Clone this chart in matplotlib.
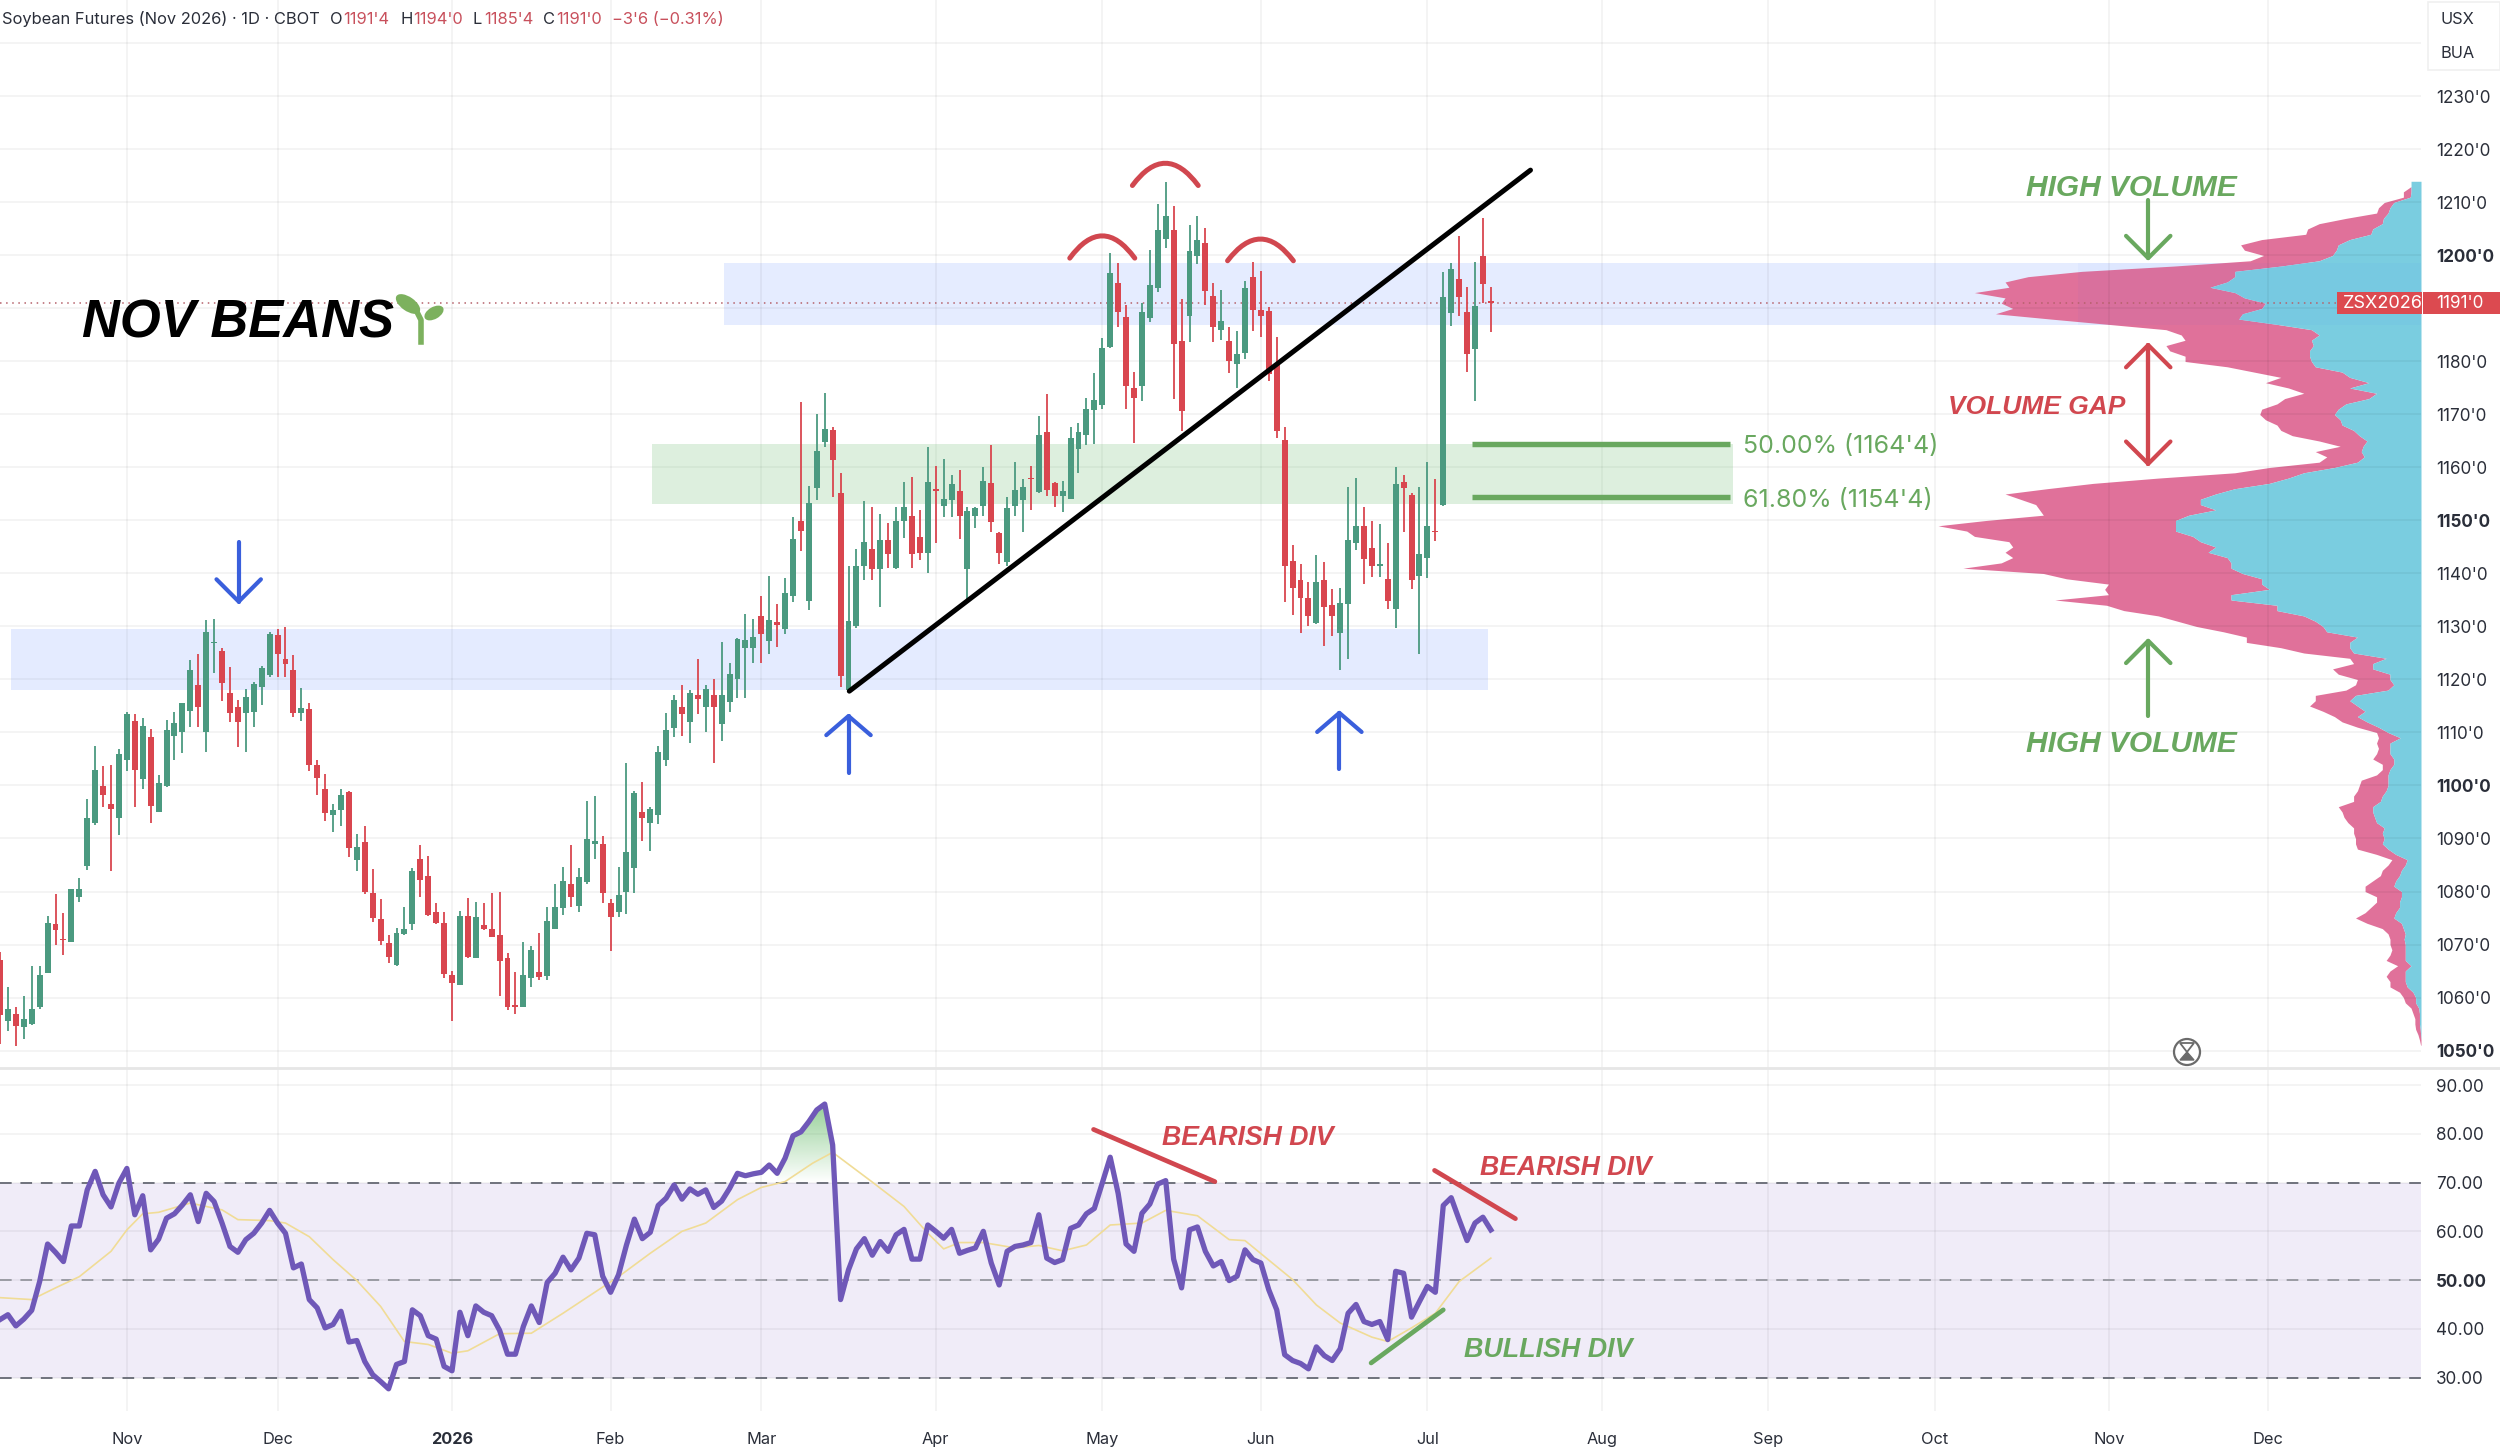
import numpy as np
import matplotlib
matplotlib.use('Agg')
import matplotlib.pyplot as plt
from matplotlib.patches import Rectangle, Ellipse, Circle, Polygon, PathPatch
from matplotlib.path import Path
from matplotlib.lines import Line2D
from matplotlib.transforms import Affine2D

opens = [1067.0,1055.5,1056.9,1054.4,1055.0,1058.3,1064.7,1073.8,1071.1,1070.5,
         1078.9,1084.9,1092.9,1099.9,1096.6,1093.9,1104.8,1112.1,1101.3,1109.1,
         1095.0,1099.9,1109.4,1110.1,1114.1,1119.0,1110.0,1126.8,1125.4,1117.4,
         1114.8,1113.7,1113.8,1118.6,1120.9,1128.4,1123.9,1121.7,1113.7,1114.4,
         1103.9,1099.3,1094.4,1095.3,1098.7,1085.9,1089.4,1079.8,1074.9,1070.2,
         1066.2,1071.9,1073.8,1086.2,1083.0,1076.2,1074.1,1064.2,1062.4,1075.4,
         1067.5,1073.6,1072.9,1071.7,1067.5,1058.5,1058.3,1063.7,1064.9,1064.0,
         1072.9,1076.9,1081.4,1077.3,1081.7,1088.9,1089.0,1077.9,1076.1,1079.9,
         1084.4,1095.0,1092.9,1094.4,1104.8,1110.8,1114.9,1111.9,1117.0,1114.8,
         1117.0,1111.6,1115.8,1120.0,1125.9,1125.9,1132.0,1127.3,1130.8,1129.6,
         1135.8,1149.9,1134.9,1156.1,1164.9,1167.1,1155.1,1118.0,1130.0,1141.5,
         1144.6,1140.8,1146.4,1141.1,1149.9,1150.8,1146.9,1143.8,1155.8,1152.7,
         1153.9,1155.6,1140.8,1150.8,1152.8,1157.0,1147.6,1142.2,1152.8,1153.9,
         1158.0,1155.3,1166.7,1157.0,1154.7,1154.0,1163.5,1166.2,1170.8,1171.8,
         1182.8,1194.8,1188.4,1175.0,1175.3,1188.2,1193.8,1203.1,1204.8,1183.8,
         1188.6,1199.9,1202.3,1192.3,1186.0,1183.9,1179.5,1181.6,1195.9,1189.8,
         1189.6,1179.8,1165.1,1142.3,1138.8,1135.4,1130.7,1138.8,1134.0,1128.8,
         1134.2,1145.8,1149.0,1144.8,1141.5,1138.9,1133.3,1157.2,1154.9,1139.5,
         1142.9,1148.0,1152.9,1189.1,1195.5,1189.4,1182.3,1199.9,1191.5]
highs = [1068.5,1062.0,1058.3,1060.3,1066.0,1066.0,1075.4,1079.5,1075.9,1080.5,
         1082.5,1097.4,1107.4,1103.7,1103.9,1106.9,1113.8,1113.5,1112.7,1110.6,
         1101.9,1112.3,1113.8,1115.6,1123.7,1124.9,1131.2,1131.4,1125.9,1122.4,
         1116.2,1118.2,1119.6,1122.5,1128.9,1129.6,1129.9,1124.7,1118.4,1115.6,
         1104.8,1102.2,1096.6,1099.3,1099.0,1090.9,1092.4,1084.2,1078.5,1071.7,
         1073.1,1077.1,1084.5,1088.8,1086.7,1077.8,1076.1,1065.0,1076.4,1078.7,
         1078.1,1077.8,1079.8,1079.9,1068.4,1064.9,1070.4,1069.7,1072.1,1077.1,
         1081.4,1084.7,1088.7,1084.5,1097.1,1098.1,1090.4,1078.5,1084.7,1104.2,
         1099.0,1100.7,1096.0,1107.4,1113.7,1117.0,1119.0,1118.0,1123.9,1119.0,
         1120.0,1127.1,1123.2,1127.9,1132.3,1131.4,1135.8,1139.6,1134.3,1139.2,
         1150.6,1172.4,1156.5,1170.1,1174.1,1167.6,1158.9,1141.5,1144.6,1153.7,
         1152.6,1151.3,1149.5,1152.6,1157.2,1158.2,1152.0,1163.8,1160.3,1161.6,
         1158.6,1159.6,1152.6,1152.6,1160.0,1164.2,1147.8,1154.4,1161.0,1157.9,
         1160.3,1169.7,1173.8,1157.2,1157.5,1167.6,1168.3,1173.2,1177.8,1184.4,
         1200.4,1198.5,1190.7,1178.1,1191.0,1201.1,1209.8,1213.8,1209.3,1191.7,
         1205.8,1207.4,1205.1,1194.8,1193.4,1186.5,1185.8,1195.2,1198.8,1197.1,
         1190.3,1184.7,1167.6,1145.3,1141.8,1138.4,1143.4,1142.2,1137.0,1137.3,
         1156.3,1158.1,1152.6,1149.9,1149.3,1145.8,1160.0,1158.6,1155.1,1156.3,
         1161.0,1157.9,1196.9,1198.5,1203.7,1194.0,1198.8,1207.0,1194.0]
lows = [1051.2,1053.6,1050.9,1052.2,1054.9,1057.9,1064.7,1069.9,1068.0,1070.4,
        1078.1,1084.0,1092.6,1096.0,1083.8,1090.7,1102.7,1096.0,1099.3,1092.9,
        1095.0,1099.7,1104.9,1106.1,1111.1,1111.0,1106.3,1121.2,1115.9,1111.9,
        1107.3,1106.3,1111.1,1115.1,1120.4,1120.4,1120.5,1113.0,1112.2,1102.7,
        1098.3,1093.3,1091.3,1092.3,1086.5,1083.8,1079.5,1074.2,1069.9,1066.5,
        1066.0,1071.7,1072.7,1079.0,1075.4,1073.8,1063.7,1055.6,1062.3,1067.4,
        1067.4,1072.7,1071.4,1060.3,1057.6,1056.8,1058.3,1062.0,1063.3,1063.3,
        1072.9,1075.6,1077.1,1076.1,1081.5,1086.1,1077.8,1068.7,1075.1,1075.8,
        1079.8,1089.6,1087.6,1092.7,1103.7,1109.2,1109.4,1108.1,1113.5,1110.0,
        1104.2,1108.4,1113.9,1116.5,1116.5,1123.2,1123.2,1124.9,1126.2,1128.5,
        1134.7,1144.3,1133.1,1153.9,1163.8,1154.4,1118.5,1117.8,1129.8,1138.7,
        1138.7,1133.7,1141.1,1140.8,1146.7,1141.1,1142.5,1140.1,1145.7,1150.6,
        1150.6,1146.5,1135.2,1148.5,1150.9,1147.8,1141.8,1141.5,1150.9,1147.8,
        1152.0,1155.1,1154.6,1152.6,1151.6,1154.0,1158.9,1164.2,1164.5,1171.1,
        1182.6,1186.5,1171.1,1164.6,1172.5,1187.5,1193.1,1201.5,1172.9,1166.9,
        1183.7,1198.3,1190.7,1183.7,1184.0,1177.9,1175.0,1180.5,1185.8,1184.7,
        1176.4,1165.6,1134.7,1132.1,1128.7,1130.0,1130.5,1126.4,1128.2,1121.8,
        1123.8,1144.4,1138.0,1139.4,1139.4,1133.3,1129.8,1147.8,1137.0,1124.8,
        1139.2,1146.2,1152.8,1186.6,1188.6,1178.0,1172.5,1191.0,1185.5]
closes = [1056.7,1057.9,1054.7,1055.9,1057.9,1064.3,1074.1,1072.7,1070.8,1080.4,
          1080.4,1093.9,1102.9,1098.3,1095.6,1105.9,1113.5,1102.9,1111.3,1096.1,
          1100.5,1110.4,1111.8,1115.6,1121.7,1114.8,1128.9,1127.1,1119.4,1113.7,
          1111.9,1116.7,1119.2,1122.2,1128.5,1124.9,1122.9,1113.7,1114.6,1103.9,
          1101.5,1094.8,1095.4,1098.3,1088.2,1088.4,1079.9,1075.0,1070.7,1067.7,
          1072.2,1072.9,1083.8,1082.2,1075.6,1074.1,1064.5,1062.7,1075.4,1067.6,
          1075.2,1072.9,1071.5,1066.9,1058.3,1058.3,1064.2,1068.9,1063.9,1074.4,
          1077.1,1082.0,1078.9,1082.7,1089.9,1089.6,1079.7,1075.2,1079.3,1087.4,
          1098.5,1093.9,1095.6,1106.4,1110.4,1116.2,1113.5,1117.4,1116.4,1118.2,
          1114.8,1117.0,1121.1,1127.6,1127.4,1128.1,1128.6,1131.3,1130.3,1136.3,
          1146.6,1148.0,1153.3,1163.1,1167.3,1161.4,1120.6,1131.0,1141.4,1146.0,
          1140.9,1146.4,1143.6,1149.9,1152.6,1143.7,1143.9,1157.2,1155.6,1154.0,
          1156.8,1150.8,1151.7,1152.3,1157.5,1149.7,1143.8,1152.3,1155.8,1156.3,
          1157.8,1166.2,1155.8,1154.7,1155.6,1165.6,1166.7,1171.1,1172.7,1182.6,
          1196.6,1189.3,1175.3,1173.2,1189.3,1194.5,1204.8,1207.5,1183.3,1170.6,
          1200.8,1202.9,1193.3,1186.5,1187.7,1180.1,1181.4,1193.9,1189.8,1188.6,
          1177.6,1166.9,1141.4,1137.3,1135.4,1131.9,1138.4,1133.7,1131.9,1134.5,
          1146.4,1149.0,1142.7,1141.5,1141.7,1134.9,1156.8,1156.1,1138.8,1143.6,
          1149.0,1147.8,1192.1,1197.5,1192.1,1181.4,1190.5,1194.6,1191.0]

rsi = [41.9,42.9,40.6,42.0,43.8,49.7,57.4,55.7,53.8,61.1,
       61.1,68.5,72.3,67.5,65.0,69.9,72.9,63.4,67.3,56.2,
       58.4,62.7,63.6,65.4,67.5,62.0,67.8,66.1,61.7,56.9,
       55.7,58.3,59.6,61.7,64.3,61.7,59.6,52.5,53.3,46.0,
       44.3,40.2,40.9,43.6,37.3,37.6,33.3,30.6,29.2,27.7,
       32.7,33.3,43.9,42.7,38.6,37.9,32.3,31.4,43.4,38.6,
       44.7,43.4,42.7,39.7,34.8,34.8,40.5,44.7,41.3,49.5,
       51.4,54.7,52.1,54.5,59.6,59.3,50.8,47.5,51.1,57.2,
       62.5,58.5,59.8,65.3,66.8,69.5,66.6,68.7,67.6,68.5,
       64.9,66.2,68.8,71.9,71.4,71.8,72.1,73.6,71.9,75.0,
       79.6,80.4,82.5,84.9,86.1,77.7,46.0,52.1,56.4,58.5,
       55.1,57.9,55.9,59.3,60.4,54.3,54.3,61.3,60.0,58.6,
       60.4,55.5,56.1,56.6,60.0,53.5,49.0,55.9,56.9,57.2,
       57.7,63.4,54.5,53.6,54.2,60.6,61.3,63.6,64.7,69.9,
       75.2,67.8,57.4,55.9,63.7,65.6,69.7,70.4,54.3,48.4,
       60.3,60.9,55.9,52.9,53.8,49.9,50.8,56.2,54.2,53.5,
       48.0,43.9,34.7,33.5,32.9,31.8,36.3,34.5,33.5,35.9,
       43.2,45.0,41.5,40.9,41.5,37.8,51.8,51.4,42.4,45.6,
       48.7,47.5,65.3,66.9,62.4,58.1,61.7,62.9,60.3]

rsi_ma_idx = [0,4,7,10,14,16,18,20,24,28,30,34,36,39,42,45,48,51,54,57,59,63,67,71,75,78,82,86,89,93,
              96,99,102.5,105,110,114,117,119,121,124,128,131,134,137,140,144,147,151,155,157,163,166,169,173,175,178,181,184,188]
rsi_ma = [46.4,46.0,48.4,50.7,55.9,60.3,63.6,63.9,65.8,64.4,62.4,62.2,61.7,58.9,54.2,49.9,44.6,37.4,36.8,35.0,35.5,39.0,39.1,43.2,47.5,50.7,55.5,60.0,61.7,66.5,
          69.0,70.2,74.0,76.2,70.1,65.1,59.6,56.4,57.7,57.7,56.6,57.1,56.0,57.2,61.3,61.7,64.3,63.2,58.3,58.1,50.1,44.9,41.2,38.3,37.4,40.2,43.2,49.7,54.5]

profile_prices = list(range(1214, 1050, -1))
profile_total = [26,26,46,46,96,111,116,196,266,296,301,416,471,461,411,446,646,886,1026,1086,
                 1076,1166,1086,1096,1066,1111,966,816,666,626,616,666,656,616,616,506,436,366,406,346,
                 306,356,376,416,421,406,376,366,336,266,211,276,246,266,396,486,686,856,976,1086,
                 1046,1006,996,986,1136,1261,1186,1166,1076,1066,1086,1066,1096,1196,986,926,816,826,816,956,
                 821,776,686,636,586,516,456,456,366,306,186,176,231,216,166,171,196,276,276,291,
                 256,226,206,166,116,111,116,111,116,126,101,101,116,156,161,166,176,176,216,206,
                 201,191,176,176,171,171,166,116,76,86,101,106,126,146,146,116,116,131,146,171,
                 141,101,86,81,81,76,81,91,61,81,91,81,81,56,46,41,26,21,16,16,14,8,4,1]
profile_up = [26,26,26,28,71,81,86,98,101,126,131,186,216,221,231,266,366,486,486,506,
              551,486,461,406,416,466,476,376,286,266,286,281,291,291,286,276,206,186,136,186,
              116,136,196,216,226,211,206,176,161,141,151,156,148,166,226,306,346,396,486,536,
              576,576,536,606,641,641,641,596,576,536,556,506,496,496,466,416,416,396,496,496,
              376,376,306,276,256,246,166,186,186,176,91,126,126,81,81,71,86,171,186,166,
              146,166,141,111,86,54,81,81,81,71,71,81,86,86,86,91,101,106,126,126,
              121,116,96,101,96,101,86,66,36,41,51,56,66,71,51,51,56,56,66,71,
              51,46,41,44,41,41,41,41,26,41,41,41,36,21,14,14,6,4,4,4,2,1,0,0]

price_ticks = [1240,1230,1220,1210,1200,1190,1180,1170,1160,1150,1140,1130,1120,1110,1100,1090,1080,1070,1060,1050]
price_labels = ['',"1230'0","1220'0","1210'0","1200'0",'',"1180'0","1170'0","1160'0","1150'0","1140'0",
                "1130'0","1120'0","1110'0","1100'0","1090'0","1080'0","1070'0","1060'0","1050'0"]
rsi_ticks = [90,80,70,60,50,40,30]
rsi_labels = ['90.00','80.00','70.00','60.00','50.00','40.00','30.00']
month_ticks = [16,35,57,77,96,118,139,159,180,202,223,244,266,286]
month_labels = ['Nov','Dec','2026','Feb','Mar','Apr','May','Jun','Jul','Aug','Sep','Oct','Nov','Dec']

GREEN = '#4b9a80'
RED = '#d9464f'
NOTE_RED = '#d1474f'
NOTE_GREEN = '#69a85f'
NOTE_BLUE = '#3a5fdc'
TEXT = '#2a2e39'
ZONE_BLUE = '#e5ecff'

plt.rcParams['font.family'] = ['Inter', 'DejaVu Sans']
NOTE_FONT = 'Liberation Sans'

W, H = 2500, 1454
fig = plt.figure(figsize=(W / 100, H / 100), dpi=100, facecolor='white')
px = Affine2D().scale(1, -1).translate(0, H)

# price pane and rsi pane, x is bar number
ax = fig.add_axes([0, (H - 1068) / H, 2421 / W, 1068 / H])
ax_rsi = fig.add_axes([0, (H - 1411) / H, 2421 / W, (1411 - 1068) / H])
xlim = (0, 2421 / 7.93)
vol_per_px = 1 / 0.383

# the volume axes sits behind the candles, with the upper zone under its bars
ax_vol = ax.twiny()
ax_vol.set_zorder(0)
ax.set_zorder(1)
ax.patch.set_visible(False)
ax_vol.add_patch(Rectangle((0, 1186.8), (2421 - 724) * vol_per_px, 11.7, color=ZONE_BLUE, lw=0, zorder=1))
ax_vol.fill_betweenx(profile_prices, profile_up, profile_total, color='#e0719a', linewidth=0, zorder=2)
ax_vol.fill_betweenx(profile_prices, 0, profile_up, color='#7acde0', linewidth=0, zorder=2)
ax_vol.set_xlim(2421 * vol_per_px, 0)
ax_vol.axis('off')

ax.set_xlim(*xlim)
ax.set_ylim(1046.7, 1248.2)
ax_rsi.set_xlim(*xlim)
ax_rsi.set_ylim(23.15, 93.5)

for a in (ax, ax_rsi):
    for s in a.spines.values():
        s.set_visible(False)
    a.yaxis.tick_right()
    a.set_xticks(month_ticks)
    a.grid(True, color='black', alpha=0.055, linewidth=1.1)
    a.set_axisbelow(True)
    a.tick_params(length=0, labelsize=12.3, labelcolor=TEXT, pad=10.8)

ax.set_yticks(price_ticks)
ax.set_yticklabels(price_labels)
ax.tick_params(labelbottom=False)
for t in ax.get_yticklabels():
    if t.get_text() in ("1200'0", "1150'0", "1100'0", "1050'0"):
        t.set_fontweight('bold')

ax_rsi.set_yticks(rsi_ticks)
ax_rsi.set_yticklabels(rsi_labels)
ax_rsi.set_xticklabels(month_labels)
ax_rsi.tick_params(axis='x', pad=15.2, labelsize=11.8)
for t in ax_rsi.get_yticklabels():
    if t.get_text() == '50.00':
        t.set_fontweight('bold')
for t in ax_rsi.get_xticklabels():
    if t.get_text() == '2026':
        t.set_fontweight('bold')

# zones
ax.add_patch(Rectangle((1.4, 1118.1), 186.3, 11.5, color='#2962ff', alpha=0.12, lw=0, zorder=1))
ax.add_patch(Rectangle((82.2, 1153.2), 136.3, 11.3, color='#4caf50', alpha=0.19, lw=0, zorder=1))
# faint tint of the upper zone over the profile
ax.add_patch(Rectangle((262, 1186.8), xlim[1] - 262, 11.7, color='#2962ff', alpha=0.035, lw=0, zorder=1))

# candles
o = np.array(opens)
c = np.array(closes)
x = np.arange(len(o))
up = c >= o
cols = np.where(up, GREEN, RED)
ax.vlines(x, lows, highs, colors=cols, linewidth=1.3, zorder=3)
ax.bar(x, np.maximum(np.abs(c - o), 0.3), bottom=np.minimum(o, c), width=0.75, color=cols, linewidth=0, zorder=4)

ax.axhline(closes[-1], color='#b5616a', linewidth=1.1, linestyle=(0, (1, 3)), zorder=2)

# fib levels
ax.hlines([1164.4, 1154.4], 185.6, 218.2, color=NOTE_GREEN, linewidth=3.9, zorder=5)

# trend line
ax.plot([107.1, 193.0], [1117.8, 1216.1], color='black', linewidth=3.6, solid_capstyle='round', zorder=6)


def arc(x1, x2, base, top):
    mid = (x1 + x2) / 2
    path = Path([(x1, base), (mid, 2 * top - base), (x2, base)], [Path.MOVETO, Path.CURVE3, Path.CURVE3])
    ax.add_patch(PathPatch(path, fill=False, edgecolor=NOTE_RED, linewidth=3.6, capstyle='round', zorder=6))


arc(134.9, 143.1, 1199.5, 1203.7)
arc(142.8, 151.1, 1213.2, 1217.4)
arc(154.8, 163.1, 1199.0, 1203.1)


def arrow(a, xc, tail, tip, color, hw=2.8, hl=4.2, lw=3.0):
    a.plot([xc, xc], [tail, tip], color=color, linewidth=lw, solid_capstyle='round', zorder=6)
    d = hl if tail > tip else -hl
    a.plot([xc - hw, xc, xc + hw], [tip + d, tip, tip + d], color=color, linewidth=lw,
           solid_capstyle='round', solid_joinstyle='round', zorder=6)


arrow(ax, 30.1, 1145.9, 1134.7, NOTE_BLUE, hl=4.2)
arrow(ax, 107.0, 1102.3, 1113.1, NOTE_BLUE, hl=3.6)
arrow(ax, 168.9, 1103.2, 1113.7, NOTE_BLUE, hl=3.6)
arrow(ax, 270.9, 1210.4, 1199.5, NOTE_GREEN)
arrow(ax, 270.9, 1113.1, 1127.3, NOTE_GREEN)
arrow(ax, 270.9, 1160.7, 1183.1, NOTE_RED)
arrow(ax, 270.9, 1183.1, 1160.7, NOTE_RED)

# rsi pane
ax_rsi.axhspan(30, 70, color='#7e57c2', alpha=0.11, lw=0, zorder=0)
for lvl, col in ((70, '#6f727c'), (50, '#9a9ca4'), (30, '#6f727c')):
    ax_rsi.axhline(lvl, color=col, linewidth=1.4, linestyle=(0, (6, 4.5)), zorder=1)

# overbought fill under the rsi line
over_idx = np.arange(98, 106)
over_vals = np.array(rsi)[over_idx]
over_poly = Polygon(np.r_[np.c_[over_idx, over_vals], [[105.2, 70], [98, 70]]], closed=True,
                    transform=ax_rsi.transData, facecolor='none', edgecolor='none')
ax_rsi.add_patch(over_poly)
grad = np.zeros((64, 2, 4))
grad[..., :3] = matplotlib.colors.to_rgb('#4caf50')
grad[..., 3] = np.linspace(0.6, 0.0, 64)[:, None]
img = ax_rsi.imshow(grad, extent=(98, 105.2, 70, 86.5), aspect='auto', zorder=2, interpolation='bilinear')
img.set_clip_path(over_poly)
ax_rsi.set_xlim(*xlim)
ax_rsi.set_ylim(23.15, 93.5)

ax_rsi.plot(rsi_ma_idx, rsi_ma, color='#f0dc96', linewidth=1.2, zorder=3)
ax_rsi.plot(x, rsi, color='#6f58b8', linewidth=3.8, solid_joinstyle='round', zorder=4)

ax_rsi.plot([137.9, 153.2], [80.9, 70.2], color=NOTE_RED, linewidth=3.4, solid_capstyle='round', zorder=5)
ax_rsi.plot([180.9, 191.1], [72.5, 62.6], color=NOTE_RED, linewidth=3.4, solid_capstyle='round', zorder=5)
ax_rsi.plot([172.9, 182.0], [33.0, 43.9], color=NOTE_GREEN, linewidth=3.4, solid_capstyle='round', zorder=5)


# everything below is placed in picture pixels, y going down
def label(xp, yp, s, color=TEXT, size=11.85, ha='left', **kw):
    fig.text(xp, yp, s, transform=px, color=color, fontsize=size, ha=ha, va='center', zorder=20, **kw)


def note(xp, yp, s, color, size):
    label(xp, yp, s, color=color, size=size, family=NOTE_FONT, fontweight='bold', fontstyle='italic')


note(82, 323, 'NOV BEANS', 'black', 37.8)
note(2026, 187.5, 'HIGH VOLUME', NOTE_GREEN, 21.5)
note(2026, 744, 'HIGH VOLUME', NOTE_GREEN, 21.5)
note(1948, 407, 'VOLUME GAP', NOTE_RED, 19)
note(1162, 1138, 'BEARISH DIV', NOTE_RED, 19.2)
note(1480, 1168, 'BEARISH DIV', NOTE_RED, 19.2)
note(1464, 1350, 'BULLISH DIV', NOTE_GREEN, 19.4)

label(1743, 447, "50.00% (1164'4)", color=NOTE_GREEN, size=18)
label(1743, 501, "61.80% (1154'4)", color=NOTE_GREEN, size=18)

# header
HEAD_RED = '#c8505c'
label(2.5, 19, 'Soybean Futures (Nov 2026) · 1D · CBOT')
for xp, s in ((330, 'O'), (400, 'H'), (473, 'L'), (543, 'C')):
    label(xp, 19, s)
for xp, s in ((343, "1191'4"), (413, "1194'0"), (484, "1185'4"), (556, "1191'0"), (612, "−3'6 (−0.31%)")):
    label(xp, 19, s, color=HEAD_RED)

# currency box
fig.add_artist(Rectangle((2428, 2), 72, 68, transform=px, facecolor='white', edgecolor='#f0f0f0', linewidth=1.2))
label(2441, 20, 'USX', size=11.8)
label(2441, 54, 'BUA', size=11.8)

# last price tags
fig.add_artist(Rectangle((2337, 292), 85, 22, transform=px, facecolor='#dc4a50', edgecolor='none', zorder=15))
fig.add_artist(Rectangle((2423, 292), 77, 22, transform=px, facecolor='#dc4a50', edgecolor='none', zorder=15))
label(2343, 303, 'ZSX2026', color='white', size=13)
label(2436, 303, "1191'0", color='white', size=12.3)

# pane divider
fig.add_artist(Line2D([0, W], [1068, 1068], transform=px, color='#e6e6e6', linewidth=2))

# hourglass
fig.add_artist(Circle((2187, 1052), 13, transform=px, facecolor='white', edgecolor='#6b6b6b', linewidth=1.6, zorder=10))
fig.add_artist(Polygon([(2180, 1043), (2194, 1043), (2187, 1052)], closed=True, transform=px, facecolor='white',
                       edgecolor='#6b6b6b', linewidth=1.3, zorder=11))
fig.add_artist(Polygon([(2180, 1060), (2194, 1060), (2187, 1052)], closed=True, transform=px, facecolor='#6b6b6b',
                       edgecolor='#6b6b6b', linewidth=1.0, zorder=11))

# seedling after the title
SPROUT = '#7cb15e'
fig.add_artist(Line2D([421, 421, 414], [342, 320, 306], transform=px, color=SPROUT, linewidth=4, zorder=12))
fig.add_artist(Ellipse((408, 304), 28, 14, angle=35, transform=px, facecolor=SPROUT, edgecolor='none', zorder=12))
fig.add_artist(Ellipse((434, 313), 21, 12, angle=-30, transform=px, facecolor=SPROUT, edgecolor='none', zorder=12))

fig.savefig('out.png', dpi=100)
